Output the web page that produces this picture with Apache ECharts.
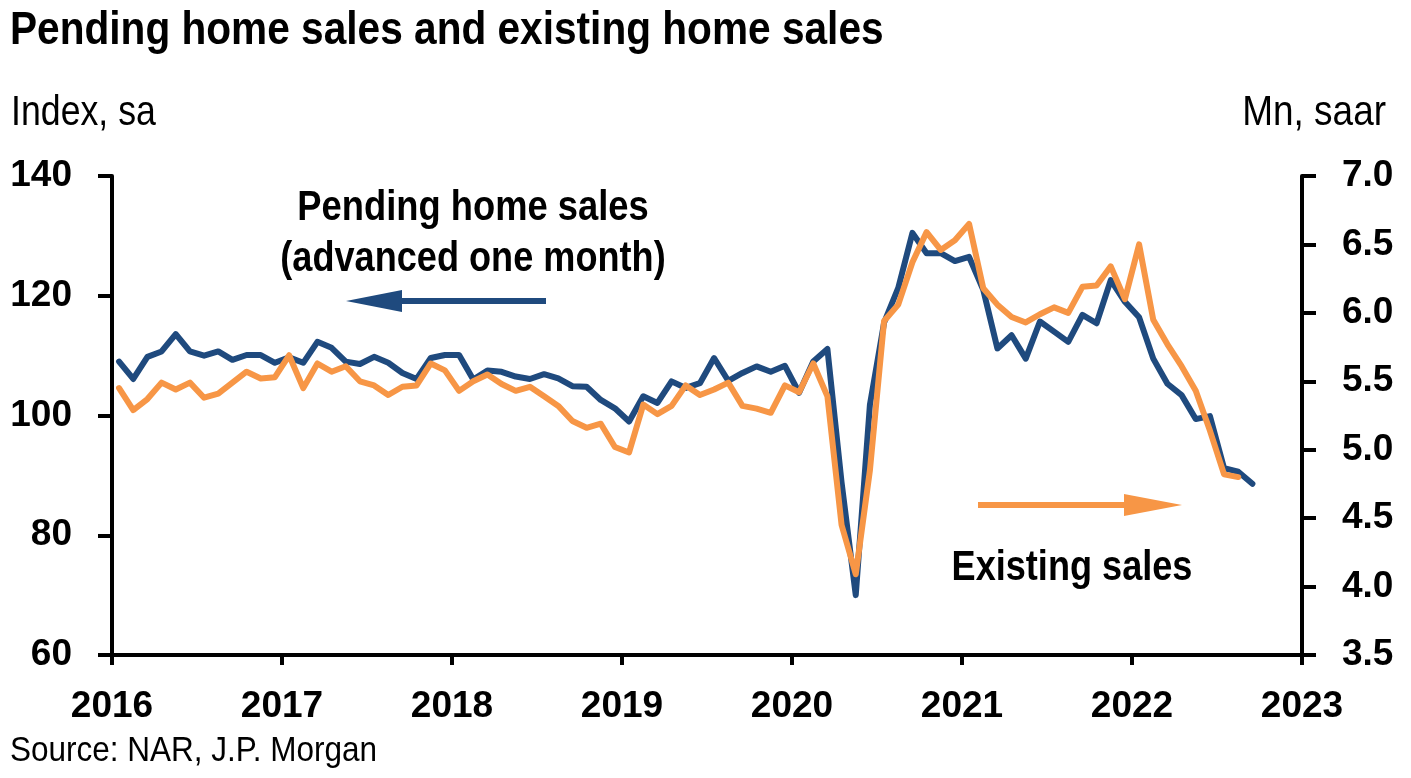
<!DOCTYPE html>
<html>
<head>
<meta charset="utf-8">
<script src="https://cdn.jsdelivr.net/npm/echarts@6/dist/echarts.min.js"></script>
<style>
html,body{margin:0;padding:0;background:#fff;}
#chart{width:1411px;height:778px;}
</style>
</head>
<body>
<div id="chart"></div>
<script>
// Pending home sales index (advanced one month), monthly from Jan 2016
const pendingIndex = [
  109.0,106.1,109.8,110.7,113.6,110.7,110.0,110.7,109.3,110.1,110.1,108.8,
  109.7,108.8,112.3,111.3,109.0,108.6,109.8,108.8,107.1,106.1,109.6,110.1,
  110.1,106.0,107.5,107.3,106.5,106.1,106.9,106.2,104.9,104.8,102.6,101.2,
  99.0,103.2,102.1,105.7,104.6,105.4,109.6,105.8,107.1,108.2,107.3,108.3,
  103.8,109.0,111.1,88.8,70.0,101.8,115.5,121.3,130.5,127.1,127.1,125.8,
  126.5,121.0,111.2,113.4,109.5,115.7,114.0,112.3,116.8,115.4,122.6,119.0,
  116.4,109.5,105.3,103.4,99.4,99.9,91.2,90.6,88.6
];
// Existing home sales, Mn saar, monthly from Jan 2016
const existingSales = [
  5.45,5.29,5.37,5.49,5.44,5.49,5.38,5.41,5.49,5.57,5.52,5.53,
  5.69,5.45,5.63,5.57,5.61,5.50,5.47,5.40,5.46,5.47,5.63,5.58,
  5.43,5.50,5.55,5.48,5.43,5.46,5.39,5.32,5.21,5.16,5.19,5.02,
  4.98,5.33,5.26,5.32,5.47,5.40,5.44,5.49,5.32,5.30,5.27,5.47,
  5.42,5.63,5.39,4.45,4.09,4.85,5.94,6.06,6.37,6.59,6.46,6.53,
  6.65,6.18,6.06,5.97,5.93,5.99,6.04,6.00,6.19,6.20,6.34,6.10,
  6.50,5.95,5.77,5.61,5.43,5.14,4.82,4.80
];
const firstYear = 2016;
const yearLabels = ['2016','2017','2018','2019','2020','2021','2022','2023'];
const leftTicks = [60,80,100,120,140];
const rightTicks = [3.5,4.0,4.5,5.0,5.5,6.0,6.5,7.0];

// x = months since Jan of firstYear, plotted mid-month
const toPairs = arr => arr.map((v, i) => [i + 0.5, v]);

const FONT = "'Liberation Sans',Arial,Helvetica,sans-serif";
const BLUE = '#1F4A7E';
const ORANGE = '#F79646';

function label(text, x, y, size, bold, align, sx) {
  return {
    type: 'text', x: x, y: y, scaleX: sx, scaleY: 1,
    style: {text: text, fill: '#000', font: (bold ? 'bold ' : '') + size + 'px ' + FONT,
      textAlign: align, textVerticalAlign: 'middle'}
  };
}

const chart = echarts.init(document.getElementById('chart'), null, {renderer: 'canvas'});
chart.setOption({
  animation: false,
  backgroundColor: '#ffffff',
  grid: {left: 112, right: 109, top: 176, bottom: 123, containLabel: false},
  xAxis: {
    type: 'value',
    min: 0, max: (yearLabels.length - 1) * 12, interval: 12,
    axisLine: {onZero: false, lineStyle: {color: '#000', width: 4}},
    axisTick: {show: true, inside: false, length: 10, lineStyle: {color: '#000', width: 4}},
    splitLine: {show: false},
    axisLabel: {
      margin: 33,
      color: '#000', fontFamily: FONT, fontWeight: 'bold', fontSize: 37,
      formatter: v => yearLabels[Math.round(v / 12)]
    }
  },
  yAxis: [
    {
      type: 'value', position: 'left',
      min: leftTicks[0], max: leftTicks[leftTicks.length - 1], interval: 20,
      axisLine: {show: true, lineStyle: {color: '#000', width: 4}},
      axisTick: {show: true, inside: false, length: 14, lineStyle: {color: '#000', width: 4}},
      splitLine: {show: false},
      axisLabel: {margin: 40, color: '#000', fontFamily: FONT, fontWeight: 'bold', fontSize: 37}
    },
    {
      type: 'value', position: 'right',
      min: rightTicks[0], max: rightTicks[rightTicks.length - 1], interval: 0.5,
      axisLine: {show: true, lineStyle: {color: '#000', width: 4}},
      axisTick: {show: true, inside: false, length: 14, lineStyle: {color: '#000', width: 4}},
      splitLine: {show: false},
      axisLabel: {margin: 40, color: '#000', fontFamily: FONT, fontWeight: 'bold', fontSize: 37,
        formatter: v => v.toFixed(1)}
    }
  ],
  series: [
    {
      name: 'Pending home sales (advanced one month)', type: 'line', yAxisIndex: 0,
      data: toPairs(pendingIndex), showSymbol: false, symbol: 'none',
      lineStyle: {color: BLUE, width: 6, cap: 'round', join: 'round'}, z: 2
    },
    {
      name: 'Existing sales', type: 'line', yAxisIndex: 1,
      data: toPairs(existingSales), showSymbol: false, symbol: 'none',
      lineStyle: {color: ORANGE, width: 6, cap: 'round', join: 'round'}, z: 3
    }
  ],
  graphic: [
    label('Pending home sales and existing home sales', 10, 31, 46, true, 'left', 0.883),
    label('Index, sa', 11, 113, 42, false, 'left', 0.85),
    label('Mn, saar', 1386, 113, 42, false, 'right', 0.88),
    label('Pending home sales', 473, 208, 43, true, 'center', 0.845),
    label('(advanced one month)', 473, 259, 43, true, 'center', 0.84),
    {type: 'line', shape: {x1: 400, y1: 301, x2: 546, y2: 301}, style: {stroke: BLUE, lineWidth: 6}},
    {type: 'polygon', shape: {points: [[346, 301], [402, 290], [402, 312]]}, style: {fill: BLUE}},
    {type: 'line', shape: {x1: 978, y1: 505, x2: 1126, y2: 505}, style: {stroke: ORANGE, lineWidth: 6}},
    {type: 'polygon', shape: {points: [[1182, 505], [1124, 494], [1124, 516]]}, style: {fill: ORANGE}},
    label('Existing sales', 1072, 568, 43, true, 'center', 0.84),
    label('Source: NAR, J.P. Morgan', 10, 751, 35, false, 'left', 0.9)
  ]
});
</script>
</body>
</html>
